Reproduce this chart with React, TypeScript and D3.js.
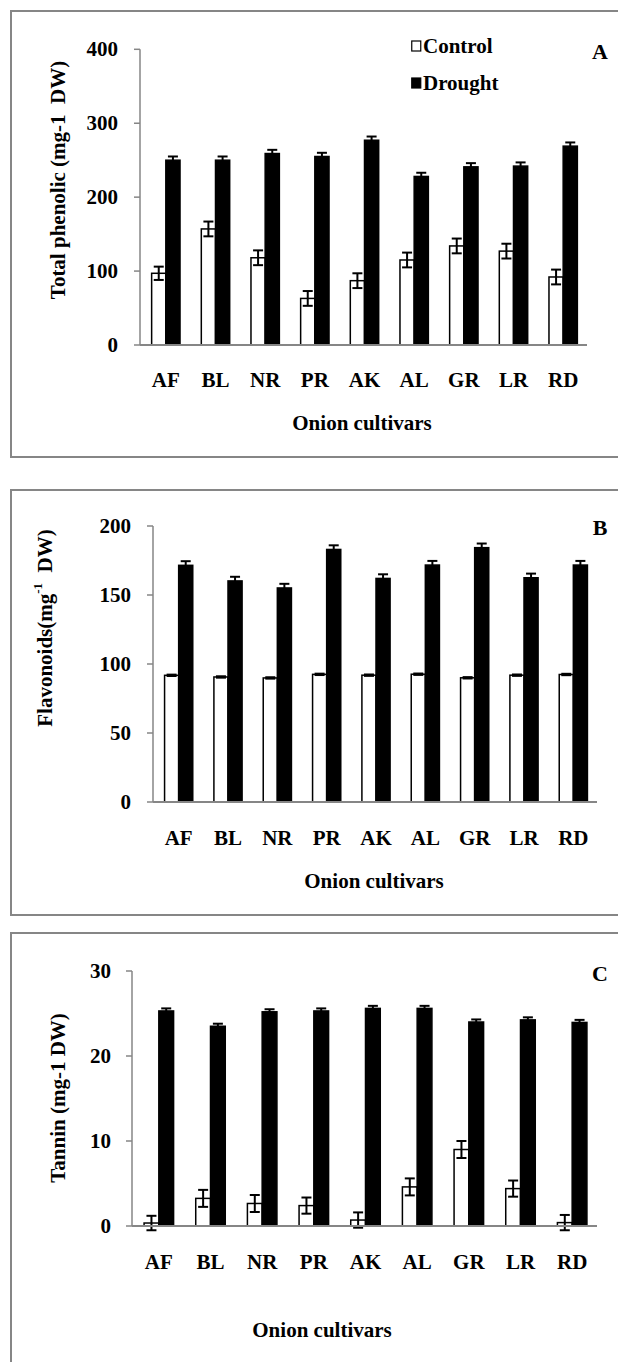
import * as d3 from 'd3';

const cultivars = ['AF', 'BL', 'NR', 'PR', 'AK', 'AL', 'GR', 'LR', 'RD'];
const seriesNames = ['Control', 'Drought'];

// A: total phenolic
const phenolicControl = [97, 157, 118, 63, 87, 115, 134, 127, 92];
const phenolicControlErr = [9, 10, 10, 10, 10, 10, 10, 10, 10];
const phenolicDrought = [250, 250, 259, 255, 277, 228, 241, 242, 269];
const phenolicDroughtErr = [5, 5, 5, 5, 5, 5, 5, 5, 5];
const phenolicTicks = [0, 100, 200, 300, 400];

// B: flavonoids
const flavControl = [91.8, 90.6, 89.9, 92.5, 91.9, 92.6, 90, 91.9, 92.4];
const flavControlErr = [0.5, 0.5, 0.5, 0.5, 0.5, 0.5, 0.5, 0.5, 0.5];
const flavDrought = [171.5, 160.2, 155.1, 183, 162, 171.7, 184.3, 162.5, 171.7];
const flavDroughtErr = [3, 3, 3, 3, 3, 3, 3, 3, 3];
const flavTicks = [0, 50, 100, 150, 200];

// C: tannin
const tanninControl = [0.35, 3.25, 2.65, 2.4, 0.7, 4.6, 9.0, 4.4, 0.4];
const tanninControlErr = [0.85, 1.0, 1.0, 0.95, 0.9, 1.0, 1.0, 0.95, 0.9];
const tanninDrought = [25.3, 23.5, 25.2, 25.3, 25.6, 25.6, 24.0, 24.25, 23.95];
const tanninDroughtErr = [0.3, 0.3, 0.3, 0.3, 0.3, 0.3, 0.3, 0.3, 0.3];
const tanninTicks = [0, 10, 20, 30];

const font = '"Liberation Serif", "Times New Roman", serif';
const axisColor = '#868686';

interface PanelCfg {
    letter: string;
    control: number[];
    controlErr: number[];
    drought: number[];
    droughtErr: number[];
    ticks: number[];
    boxTop: number;
    boxBottom: number;
    x0: number;
    x1: number;
    yZero: number;
    yTop: number;
    labelEnd: number;
    yTitle: React.ReactNode;
    yTitleX: number;
    yTitleY: number;
    catY: number;
    titleX: number;
    titleY: number;
    letterY: number;
    legend?: boolean;
}

const Panel = ({ cfg }: { cfg: PanelCfg }) => {
    const x = d3.scaleBand().domain(cultivars).range([cfg.x0, cfg.x1]).padding(0);
    const inner = d3
        .scaleBand()
        .domain(seriesNames)
        .range([0, x.bandwidth()])
        .paddingInner(0)
        .paddingOuter(0.75);
    const maxTick = cfg.ticks[cfg.ticks.length - 1];
    const y = d3.scaleLinear().domain([0, maxTick]).range([cfg.yZero, cfg.yTop]);
    const bw = inner.bandwidth();
    const capW = 10;

    const errBar = (cx: number, v: number, e: number, key: string) => (
        <g key={key} stroke="#000" strokeWidth={2}>
            <line x1={cx} x2={cx} y1={y(v - e)} y2={y(v + e)} />
            <line x1={cx - capW / 2} x2={cx + capW / 2} y1={y(v + e)} y2={y(v + e)} />
            <line x1={cx - capW / 2} x2={cx + capW / 2} y1={y(v - e)} y2={y(v - e)} />
        </g>
    );

    return (
        <g>
            <rect
                x={11}
                y={cfg.boxTop}
                width={630}
                height={cfg.boxBottom - cfg.boxTop}
                fill="none"
                stroke={axisColor}
                strokeWidth={2}
            />
            {/* y axis */}
            <line x1={cfg.x0} x2={cfg.x0} y1={y(0)} y2={y(maxTick)} stroke={axisColor} strokeWidth={1.5} />
            {cfg.ticks.map(t => (
                <g key={t}>
                    <line x1={cfg.x0 - 6} x2={cfg.x0} y1={y(t)} y2={y(t)} stroke={axisColor} strokeWidth={1.5} />
                    <text
                        x={cfg.labelEnd}
                        y={y(t)}
                        textAnchor="end"
                        dominantBaseline="central"
                        fontFamily={font}
                        fontWeight="bold"
                        fontSize={21}
                    >
                        {t}
                    </text>
                </g>
            ))}
            {/* bars */}
            {cultivars.map((c, i) => {
                const bx = (x(c) ?? 0) + 1;
                const cx = bx + (inner('Control') ?? 0);
                const dx = bx + (inner('Drought') ?? 0);
                return (
                    <g key={c}>
                        <rect
                            x={cx}
                            y={y(cfg.control[i])}
                            width={bw}
                            height={y(0) - y(cfg.control[i])}
                            fill="#fff"
                            stroke="#000"
                            strokeWidth={1.5}
                        />
                        <rect
                            x={dx}
                            y={y(cfg.drought[i])}
                            width={bw}
                            height={y(0) - y(cfg.drought[i])}
                            fill="#000"
                            stroke="#000"
                            strokeWidth={1.5}
                        />
                        {errBar(cx + bw / 2, cfg.control[i], cfg.controlErr[i], 'ec')}
                        {errBar(dx + bw / 2, cfg.drought[i], cfg.droughtErr[i], 'ed')}
                        <text
                            x={bx + x.bandwidth() / 2}
                            y={cfg.catY}
                            textAnchor="middle"
                            dominantBaseline="central"
                            fontFamily={font}
                            fontWeight="bold"
                            fontSize={21}
                        >
                            {c}
                        </text>
                    </g>
                );
            })}
            {/* x axis */}
            <line x1={cfg.x0} x2={cfg.x1} y1={y(0)} y2={y(0)} stroke={axisColor} strokeWidth={2} />
            <text
                transform={`translate(${cfg.yTitleX},${cfg.yTitleY}) rotate(-90)`}
                textAnchor="middle"
                dominantBaseline="central"
                fontFamily={font}
                fontWeight="bold"
                fontSize={21}
                style={{ whiteSpace: 'pre' }}
            >
                {cfg.yTitle}
            </text>
            <text
                x={cfg.titleX}
                y={cfg.titleY}
                textAnchor="middle"
                dominantBaseline="central"
                fontFamily={font}
                fontWeight="bold"
                fontSize={21}
            >
                Onion cultivars
            </text>
            <text
                x={600}
                y={cfg.letterY}
                textAnchor="middle"
                dominantBaseline="central"
                fontFamily={font}
                fontWeight="bold"
                fontSize={22}
            >
                {cfg.letter}
            </text>
            {cfg.legend &&
                seriesNames.map((s, i) => (
                    <g key={s} transform={`translate(411,${46 + i * 37})`}>
                        <rect
                            x={0.75}
                            y={-5}
                            width={9}
                            height={10}
                            fill={i === 0 ? '#fff' : '#000'}
                            stroke="#000"
                            strokeWidth={1.2}
                        />
                        <text
                            x={12}
                            y={0}
                            dominantBaseline="central"
                            fontFamily={font}
                            fontWeight="bold"
                            fontSize={21}
                        >
                            {s}
                        </text>
                    </g>
                ))}
        </g>
    );
};

const panels: PanelCfg[] = [
    {
        letter: 'A',
        control: phenolicControl,
        controlErr: phenolicControlErr,
        drought: phenolicDrought,
        droughtErr: phenolicDroughtErr,
        ticks: phenolicTicks,
        boxTop: 11,
        boxBottom: 457,
        x0: 140,
        x1: 587,
        yZero: 345,
        yTop: 49.3,
        labelEnd: 118,
        yTitle: 'Total phenolic (mg-1  DW)',
        yTitleX: 58,
        yTitleY: 180,
        catY: 380,
        titleX: 362,
        titleY: 423,
        letterY: 51,
        legend: true,
    },
    {
        letter: 'B',
        control: flavControl,
        controlErr: flavControlErr,
        drought: flavDrought,
        droughtErr: flavDroughtErr,
        ticks: flavTicks,
        boxTop: 490,
        boxBottom: 915,
        x0: 153,
        x1: 597,
        yZero: 802,
        yTop: 526,
        labelEnd: 131,
        yTitle: (
            <>
                Flavonoids(mg
                <tspan fontSize={13} dy={-8}>
                    -1
                </tspan>
                <tspan dy={8}>{'  DW)'}</tspan>
            </>
        ),
        yTitleX: 45,
        yTitleY: 628,
        catY: 838,
        titleX: 374,
        titleY: 881,
        letterY: 527,
    },
    {
        letter: 'C',
        control: tanninControl,
        controlErr: tanninControlErr,
        drought: tanninDrought,
        droughtErr: tanninDroughtErr,
        ticks: tanninTicks,
        boxTop: 933,
        boxBottom: 1380,
        x0: 132,
        x1: 597,
        yZero: 1226,
        yTop: 971,
        labelEnd: 111,
        yTitle: 'Tannin (mg-1 DW)',
        yTitleX: 58,
        yTitleY: 1098,
        catY: 1262,
        titleX: 322,
        titleY: 1330,
        letterY: 973,
    },
];

const App = () => {
    return (
        <svg
            width={618}
            height={1362}
            style={{ position: 'absolute', left: 0, top: 0, background: '#fff' }}
        >
            {panels.map(p => (
                <Panel key={p.letter} cfg={p} />
            ))}
        </svg>
    );
};

export default App;
